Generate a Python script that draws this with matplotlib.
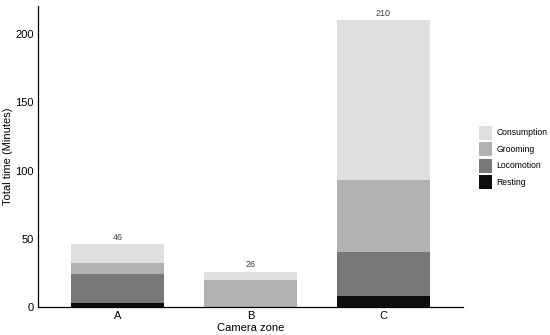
import matplotlib
matplotlib.use('Agg')
import matplotlib.pyplot as plt
import numpy as np

plt.rcParams['font.family'] = 'Liberation Sans'

zones = ['A', 'B', 'C']
resting = [3, 0, 8]
locomotion = [21, 0, 32]
grooming = [8, 20, 53]
consumption = [14, 6, 117]
totals = [46, 26, 210]

behaviours = ['Resting', 'Locomotion', 'Grooming', 'Consumption']
colours = ['#0d0d0d', '#787878', '#b2b2b2', '#dfdfdf']

fig = plt.figure(figsize=(5.5, 3.35), dpi=100)
ax = fig.add_axes([0.069, 0.0836, 0.773, 0.898])

x = np.arange(len(zones))
bottom = np.zeros(len(zones))
handles = []
for name, vals, col in zip(behaviours, [resting, locomotion, grooming, consumption], colours):
    b = ax.bar(x, vals, 0.7, bottom=bottom, color=col, label=name, linewidth=0)
    handles.append(b)
    bottom += np.array(vals)

for xi, t in zip(x, totals):
    ax.text(xi, t + 1.5, str(t), ha='center', va='bottom', fontsize=6.5, color='#444444')

ax.set_xlim(-0.6, 2.6)
ax.set_ylim(0, 220.5)
ax.set_xticks(x)
ax.set_xticklabels(zones)
ax.set_yticks([0, 50, 100, 150, 200])
ax.tick_params(length=0, labelsize=8, pad=3, colors='black')
ax.set_xlabel('Camera zone', fontsize=8, labelpad=1)
ax.set_ylabel('Total time (Minutes)', fontsize=8, labelpad=2)
ax.spines['top'].set_visible(False)
ax.spines['right'].set_visible(False)
ax.spines['left'].set_linewidth(0.9)
ax.spines['bottom'].set_linewidth(0.9)

leg = fig.legend(handles[::-1], behaviours[::-1], loc='center left',
                 bbox_to_anchor=(0.87, 0.53), frameon=False, fontsize=6.2,
                 handlelength=1.6, handleheight=2.1, labelspacing=0.3,
                 handletextpad=0.5, borderpad=0, borderaxespad=0)

fig.savefig('out.png', dpi=100)
